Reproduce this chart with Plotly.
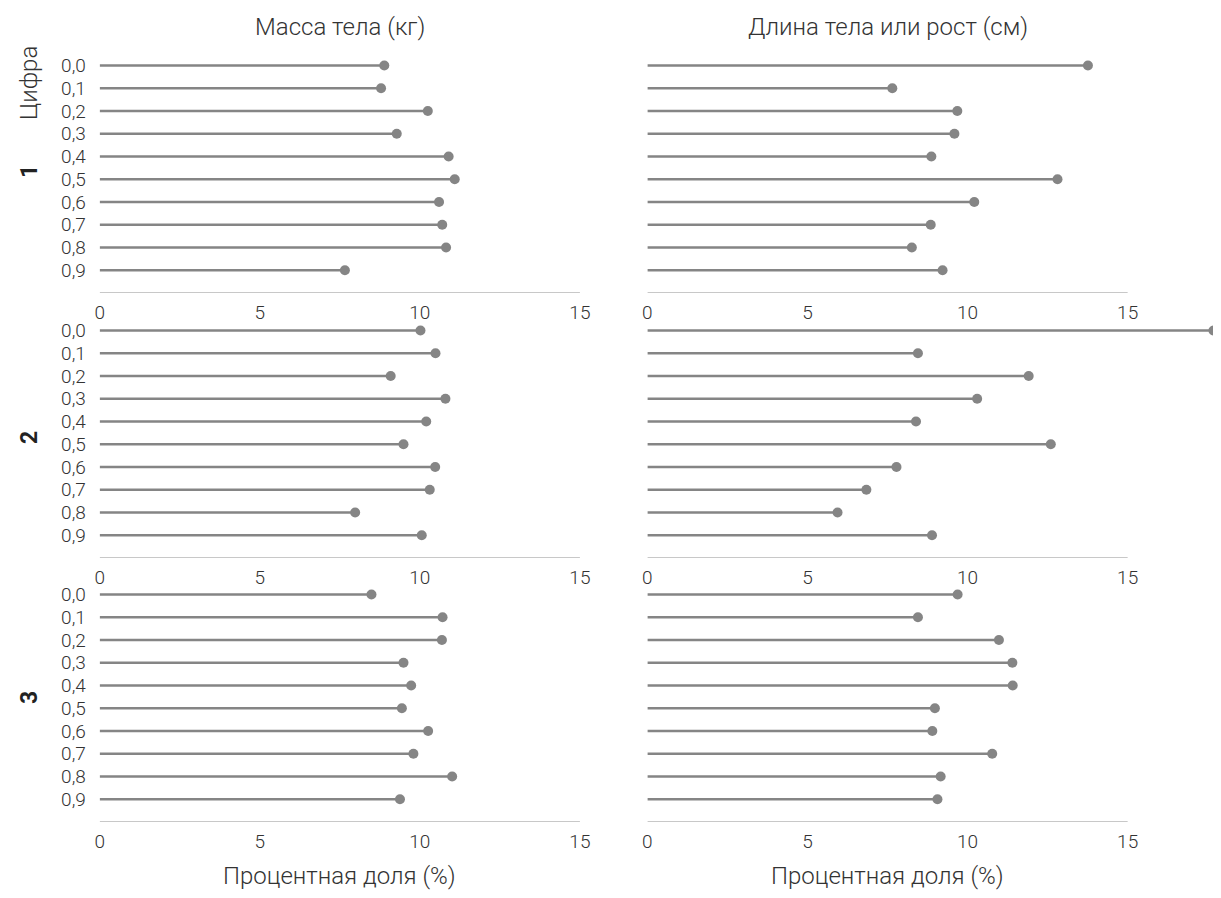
import plotly.graph_objects as go

OFF = 8  # page body margin
W, H = 1221 - OFF, 898 - OFF

digits = ["0,0", "0,1", "0,2", "0,3", "0,4", "0,5", "0,6", "0,7", "0,8", "0,9"]
x_ticks = [0, 5, 10, 15]
col_titles = ["Масса тела (кг)", "Длина тела или рост (см)"]
row_labels = ["1", "2", "3"]
x_title = "Процентная доля (%)"
y_title = "Цифра"

mass_d1 = [8.89, 8.79, 10.25, 9.28, 10.90, 11.09, 10.60, 10.70, 10.82, 7.66]
mass_d2 = [10.02, 10.49, 9.09, 10.80, 10.20, 9.49, 10.48, 10.31, 7.98, 10.06]
mass_d3 = [8.49, 10.71, 10.69, 9.49, 9.73, 9.44, 10.26, 9.80, 11.01, 9.38]
height_d1 = [13.76, 7.65, 9.68, 9.59, 8.87, 12.81, 10.21, 8.85, 8.26, 9.22]
height_d2 = [17.68, 8.45, 11.91, 10.30, 8.39, 12.60, 7.78, 6.84, 5.94, 8.89]
height_d3 = [9.69, 8.45, 10.98, 11.40, 11.41, 8.98, 8.90, 10.77, 9.16, 9.06]

data = [[mass_d1, height_d1], [mass_d2, height_d2], [mass_d3, height_d3]]

# layout (pixels, in page coordinates; converted by OFF)
PPU = 32.15
col_x0 = [95 - OFF, 645 - OFF]
col_xmax = [15.6, (W - col_x0[1]) / PPU]
row_line = [293 - OFF, 558 - OFF, 822 - OFF]
row_label_y = [171 - OFF, 437 - OFF, 697 - OFF]
SP = 22.75

LINE_C = "#858585"
AXIS_C = "#c8c8c8"
TEXT_C = "#333333"
FONT = "Roboto"

fig = go.Figure()
layout = {}
idx = 0
for r in range(3):
    for c in range(2):
        idx += 1
        xa = "xaxis" if idx == 1 else f"xaxis{idx}"
        ya = "yaxis" if idx == 1 else f"yaxis{idx}"
        xr = "x" if idx == 1 else f"x{idx}"
        yr = "y" if idx == 1 else f"y{idx}"
        vals = data[r][c]
        lx, ly = [], []
        for i, v in enumerate(vals):
            lx += [0, v, None]
            ly += [i, i, None]
        fig.add_trace(go.Scatter(x=lx, y=ly, mode="lines", xaxis=xr, yaxis=yr,
                                 line=dict(color=LINE_C, width=2.7),
                                 hoverinfo="skip", showlegend=False))
        fig.add_trace(go.Scatter(x=vals, y=list(range(10)), mode="markers", xaxis=xr, yaxis=yr,
                                 marker=dict(color=LINE_C, size=10),
                                 cliponaxis=False, showlegend=False))
        x0 = col_x0[c]
        x1 = x0 + col_xmax[c] * PPU
        L = row_line[r]
        top = L - 10.8 * SP
        layout[xa] = dict(domain=[x0 / W, min(x1 / W, 1.0)], range=[0, col_xmax[c]],
                          anchor=yr, tickvals=x_ticks, ticktext=[str(t) for t in x_ticks],
                          showgrid=False, zeroline=False, showline=False,
                          ticks="outside", ticklen=2, tickcolor="rgba(0,0,0,0)",
                          tickfont=dict(family=FONT, size=19, color=TEXT_C, weight=300),
                          fixedrange=True)
        layout[ya] = dict(domain=[1 - L / H, 1 - top / H], range=[10, -0.8],
                          anchor=xr, tickvals=list(range(10)),
                          ticktext=digits if c == 0 else [""] * 10,
                          showticklabels=(c == 0),
                          showgrid=False, zeroline=False, showline=False,
                          ticks="outside" if c == 0 else "", ticklen=9,
                          tickcolor="rgba(0,0,0,0)",
                          tickfont=dict(family=FONT, size=19, color=TEXT_C, weight=300),
                          fixedrange=True)
        fig.add_shape(type="line", xref=xr, yref=yr, x0=0, x1=15, y0=10, y1=10,
                      line=dict(color=AXIS_C, width=2))

annotations = []
for c in range(2):
    cx = (col_x0[c] + col_x0[c] + 15 * PPU) / 2 / W
    annotations.append(dict(text=col_titles[c], x=cx, y=1 - (27 - OFF) / H, xref="paper", yref="paper",
                            showarrow=False, xanchor="center", yanchor="middle",
                            font=dict(family=FONT, size=24, color=TEXT_C, weight=300)))
    annotations.append(dict(text=x_title, x=cx, y=1 - (876 - OFF) / H, xref="paper", yref="paper",
                            showarrow=False, xanchor="center", yanchor="middle",
                            font=dict(family=FONT, size=24, color=TEXT_C, weight=300)))
annotations.append(dict(text=y_title, x=(24 - OFF) / W, y=1 - (83 - OFF) / H, xref="paper", yref="paper",
                        showarrow=False, textangle=-90, xanchor="center", yanchor="middle",
                        font=dict(family=FONT, size=24, color=TEXT_C, weight=300)))
for r, lab in enumerate(row_labels):
    annotations.append(dict(text=f"<b>{lab}</b>", x=(24 - OFF) / W, y=1 - row_label_y[r] / H,
                            xref="paper", yref="paper",
                            showarrow=False, textangle=-90, xanchor="center", yanchor="middle",
                            font=dict(family=FONT, size=23, color="#222222")))

fig.update_layout(width=W, height=H, margin=dict(l=0, r=0, t=0, b=0),
                  paper_bgcolor="white", plot_bgcolor="rgba(0,0,0,0)",
                  annotations=annotations, **layout)

fig.write_html("out.html")
